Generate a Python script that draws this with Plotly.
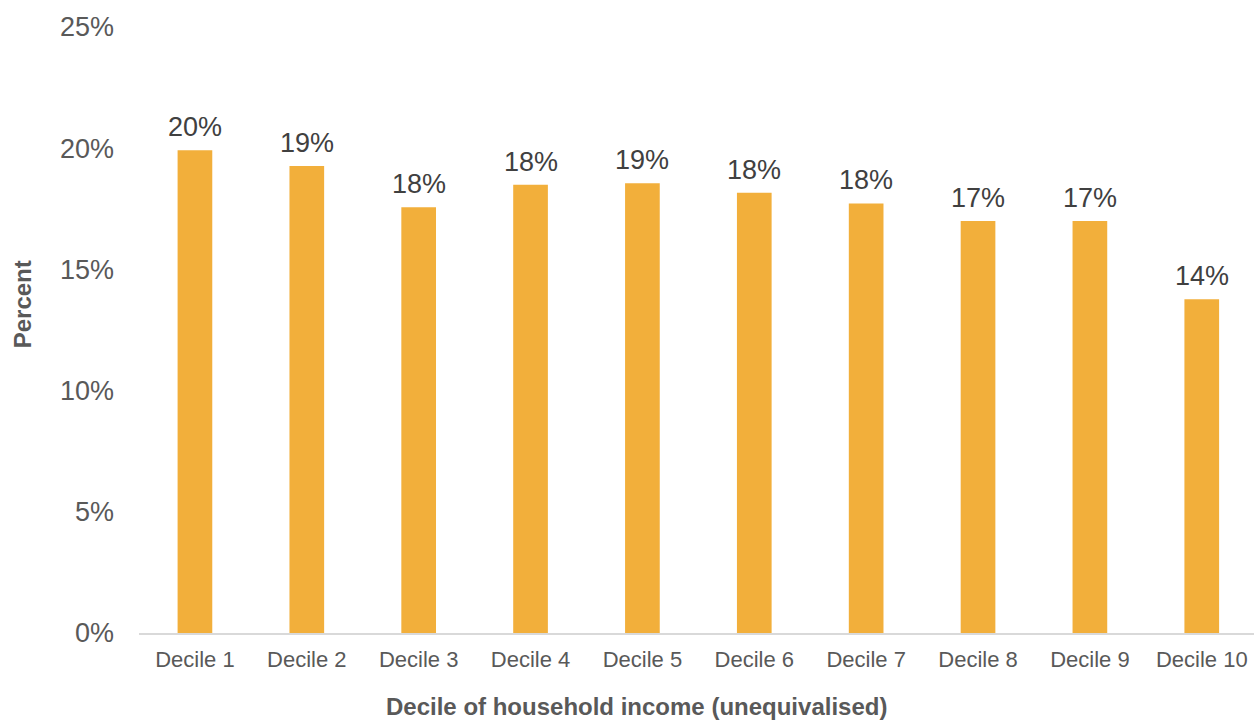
import plotly.graph_objects as go

categories = ["Decile 1", "Decile 2", "Decile 3", "Decile 4", "Decile 5",
              "Decile 6", "Decile 7", "Decile 8", "Decile 9", "Decile 10"]
values = [19.92, 19.27, 17.56, 18.49, 18.55, 18.16, 17.72, 17.00, 17.00, 13.77]
y_ticks = [0, 5, 10, 15, 20, 25]
y_tick_labels = ["0%", "5%", "10%", "15%", "20%", "25%"]
x_title = "Decile of household income (unequivalised)"
y_title = "Percent"

FONT = "Liberation Sans, Arial, sans-serif"
BAR = "#F2AF3B"

fig = go.Figure()
fig.add_trace(go.Bar(
    x=categories, y=values,
    marker=dict(color=BAR, line=dict(width=0)),
    width=0.31,
    hoverinfo="skip",
))

label_annotations = [
    dict(x=c, y=v, xref="x", yref="y", text=f"{v:.0f}%",
         showarrow=False, xanchor="center", yanchor="bottom", yshift=6,
         font=dict(family=FONT, size=27, color="#404040"))
    for c, v in zip(categories, values)
]

fig.update_layout(
    width=1254, height=720,
    margin=dict(l=139, r=0, t=27, b=87),
    plot_bgcolor="white", paper_bgcolor="white",
    showlegend=False,
    font=dict(family=FONT, color="#595959"),
    xaxis=dict(
        range=[-0.5, 9.467],
        showline=True, linecolor="#D9D9D9", linewidth=1.5,
        showgrid=False, ticks="",
        tickfont=dict(size=22, color="#595959"),
        ticklabelstandoff=6,
    ),
    yaxis=dict(
        range=[0, 25],
        tickmode="array", tickvals=y_ticks, ticktext=y_tick_labels,
        showgrid=False, showline=False, zeroline=False, ticks="",
        tickfont=dict(size=27, color="#595959"),
        ticklabelstandoff=24,
    ),
    annotations=label_annotations + [
        dict(text=x_title, xref="paper", yref="paper",
             x=(636.5 - 139) / 1115, y=-(706 - 632.7) / 606,
             xanchor="center", yanchor="middle", showarrow=False,
             font=dict(family=FONT, size=24, color="#595959", weight="bold")),
        dict(text=y_title, xref="paper", yref="paper", textangle=-90,
             x=(22 - 139) / 1115, y=(632.7 - 304) / 606,
             xanchor="center", yanchor="middle", showarrow=False,
             font=dict(family=FONT, size=24, color="#595959", weight="bold")),
    ],
)

fig.write_html("out.html", config={"displayModeBar": False},
               post_script="document.body.style.margin='0';")
